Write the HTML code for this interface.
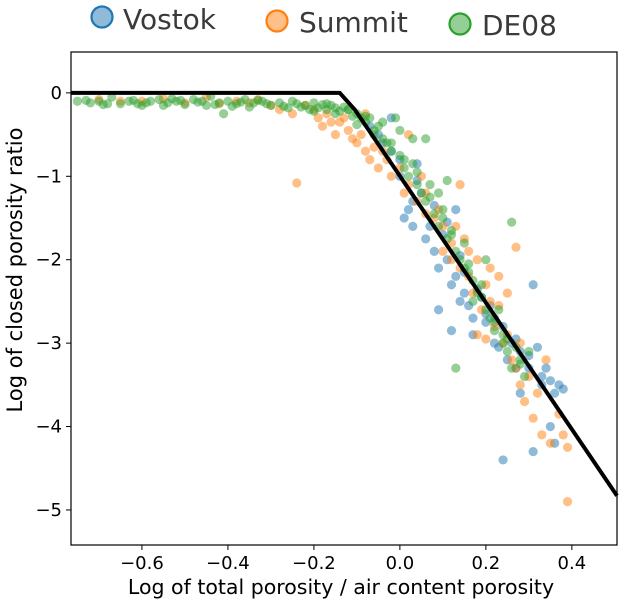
<!DOCTYPE html>
<html><head><meta charset="utf-8"><style>
html,body{margin:0;padding:0;background:#fff;}
svg{display:block;font-family:"DejaVu Sans","Liberation Sans",sans-serif;}
</style></head><body>
<svg id="chart" width="625" height="604" viewBox="0 0 625 604">
<g id="legend">
 <g>
  <circle cx="102" cy="17" r="10.5" fill="#8fbbd9" stroke="#1f77b4" stroke-width="2.2"/>
  <text x="123" y="29" font-size="28" fill="#3a3a3a">Vostok</text></g>
 <g>
  <circle cx="277" cy="21" r="10.5" fill="#ffbf86" stroke="#ff7f0e" stroke-width="2.2"/>
  <text x="299" y="32" font-size="28" fill="#3a3a3a">Summit</text></g>
 <g>
  <circle cx="460" cy="24" r="10.5" fill="#95cf95" stroke="#2ca02c" stroke-width="2.2"/>
  <text x="482" y="35" font-size="28" fill="#3a3a3a">DE08</text></g>
</g>
<g id="marks"></g>
<rect x="71" y="52" width="546" height="493" fill="none" stroke="#000" stroke-width="1.2"/>
<g id="axes"></g>
<text x="341" y="594" font-size="20.5" text-anchor="middle" fill="#000">Log of total porosity / air content porosity</text>
<text transform="translate(22,270) rotate(-90)" font-size="21" text-anchor="middle" fill="#000">Log of closed porosity ratio</text>
</svg>
<script>
const xTicks=[-0.6,-0.4,-0.2,0.0,0.2,0.4];
const yTicks=[0,-1,-2,-3,-4,-5];
const xDomain=[-0.765,0.505];
const yDomain=[0.49,-5.42];
const vostokX=[-0.05,-0.02,0.0,0.01,0.03,0.03,0.05,0.06,0.08,0.09,0.1,0.11,0.12,0.13,0.14,0.15,0.16,0.17,0.17,0.2,0.2,0.22,0.23,0.25,0.26,0.27,0.28,0.3,0.31,0.32,0.33,0.34,0.35,0.36,0.37,0.35,0.31,0.24,0.13,0.04,-0.02,0.09,0.07,0.12,0.28,0.38,0.36,0.02,-0.07,-0.04,0.0,0.04,0.08,0.11,0.14,0.18,0.21,0.24,0.27,0.3,0.33,0.15,0.19,0.22];
const vostokY=[-0.5,-0.7,-1.0,-1.5,-1.3,-1.6,-1.2,-1.75,-1.9,-2.1,-1.7,-2.0,-2.3,-2.2,-2.5,-2.4,-2.55,-2.7,-2.9,-2.65,-2.75,-3.0,-3.05,-3.2,-3.0,-3.3,-3.1,-3.3,-2.3,-3.05,-3.5,-3.3,-3.45,-3.6,-3.5,-4.0,-4.3,-4.4,-1.4,-0.85,-0.3,-2.6,-1.6,-2.85,-3.6,-3.55,-4.2,-1.4,-0.4,-0.6,-0.8,-1.05,-1.35,-1.55,-1.95,-2.35,-2.55,-2.8,-2.95,-3.15,-3.4,-2.15,-2.45,-2.7];
const summitX=[-0.7,-0.6,-0.5,-0.45,-0.38,-0.3,-0.28,-0.25,-0.2,-0.18,-0.16,-0.15,-0.12,-0.1,-0.08,-0.06,-0.05,-0.03,-0.02,0,0.02,0.04,0.06,0.08,0.1,0.12,0.12,0.14,0.15,0.16,0.17,0.18,0.19,0.2,0.21,0.22,0.23,0.24,0.25,0.26,0.27,0.27,0.28,0.29,0.3,0.31,0.33,0.35,0.37,0.38,0.39,0.39,0.14,-0.24,-0.13,0.06,0.25,0.18,0.34,0.2,0.1,0.02,-0.08,-0.55,-0.35,-0.22,-0.65,-0.42,-0.33,-0.19,-0.17,-0.14,-0.11,-0.09,-0.07,-0.04,0.01,0.05,0.09,0.13,0.16,0.21,0.23,0.28,0.32];
const summitY=[-0.08,-0.1,-0.12,-0.05,-0.1,-0.15,-0.2,-0.25,-0.2,-0.4,-0.35,-0.5,-0.45,-0.6,-0.7,-0.65,-0.9,-0.8,-1.0,-0.9,-1.1,-1.3,-1.2,-1.5,-1.6,-1.8,-2.0,-2.1,-1.75,-2.2,-2.4,-2.0,-2.6,-2.3,-2.5,-2.8,-2.2,-3.0,-2.9,-3.2,-1.85,-3.3,-3.5,-3.7,-3.4,-3.9,-4.1,-4.2,-3.85,-4.1,-4.25,-4.9,-1.1,-1.08,-0.3,-1.45,-2.4,-2.9,-3.2,-2.95,-1.9,-0.5,-0.25,-0.07,-0.12,-0.15,-0.1,-0.13,-0.08,-0.3,-0.25,-0.35,-0.55,-0.5,-0.8,-0.7,-1.2,-1.0,-1.4,-1.6,-1.9,-2.1,-2.55,-3.0,-3.6];
const de08X=[-0.75,-0.72,-0.7,-0.67,-0.65,-0.63,-0.6,-0.58,-0.56,-0.54,-0.52,-0.5,-0.48,-0.46,-0.44,-0.42,-0.41,-0.4,-0.38,-0.36,-0.34,-0.32,-0.3,-0.28,-0.26,-0.24,-0.22,-0.2,-0.19,-0.17,-0.16,-0.14,-0.13,-0.11,-0.1,-0.08,-0.07,-0.06,-0.05,-0.04,-0.03,-0.02,0,0,0.01,0.02,0.03,0.04,0.05,0.06,0.07,0.08,0.09,0.1,0.11,0.12,0.13,0.14,0.15,0.16,0.17,0.18,0.19,0.2,0.21,0.22,0.23,0.24,0.25,0.26,0.26,0.27,0.28,0.29,0.3,0.13,0.11,0.06,0.17,0.24,0.2,0.15,0.09,0.03,-0.01,-0.69,-0.62,-0.55,-0.47,-0.39,-0.33,-0.27,-0.21,-0.18,-0.15,-0.12,-0.09,-0.35,-0.45,-0.53,-0.61,-0.73,-0.68,-0.59,-0.51,-0.43,-0.37,-0.31,-0.25,-0.23,-0.2,-0.17,-0.15,-0.12,-0.1,-0.08,-0.06,-0.04,-0.02,0.01,0.04,0.07,0.1,0.12,0.16,0.19,0.22,0.25,0.28];
const de08Y=[-0.1,-0.12,-0.1,-0.05,-0.13,-0.1,-0.15,-0.1,-0.08,-0.12,-0.1,-0.14,-0.08,-0.1,-0.04,-0.12,-0.25,-0.1,-0.13,-0.08,-0.12,-0.1,-0.15,-0.12,-0.18,-0.13,-0.15,-0.12,-0.18,-0.2,-0.15,-0.22,-0.17,-0.28,-0.25,-0.35,-0.3,-0.45,-0.4,-0.55,-0.6,-0.7,-0.45,-0.75,-0.9,-1.0,-0.85,-1.1,-1.2,-1.3,-1.1,-1.45,-1.6,-1.5,-1.75,-1.65,-1.9,-2.0,-2.1,-2.05,-2.25,-2.4,-2.3,-2.6,-2.7,-2.85,-2.6,-3.0,-3.1,-3.3,-1.55,-3.05,-3.2,-3.4,-3.1,-3.3,-1.05,-0.55,-2.5,-2.9,-2.0,-1.8,-1.2,-0.55,-0.3,-0.14,-0.09,-0.15,-0.11,-0.16,-0.09,-0.16,-0.2,-0.14,-0.18,-0.2,-0.3,-0.17,-0.15,-0.07,-0.13,-0.09,-0.13,-0.12,-0.09,-0.14,-0.11,-0.13,-0.1,-0.17,-0.22,-0.13,-0.25,-0.2,-0.38,-0.28,-0.5,-0.35,-0.6,-0.8,-0.95,-1.25,-1.4,-1.7,-2.15,-2.45,-2.75,-2.95,-3.25];
const fitX=[-0.765,-0.14,-0.105,0.505];
const fitY=[0,0,-0.2,-4.83];
const X0=71,X1=617,Y0=52,Y1=545;
const sx=v=>X0+(v-xDomain[0])/(xDomain[1]-xDomain[0])*(X1-X0);
const sy=v=>Y0+(v-yDomain[0])/(yDomain[1]-yDomain[0])*(Y1-Y0);
const NS='http://www.w3.org/2000/svg';
const marks=document.getElementById('marks'),axes=document.getElementById('axes');
function series(xs,ys,fill,name){
  const g=document.createElementNS(NS,'g');
  
  
  xs.forEach((x,i)=>{
    const c=document.createElementNS(NS,'circle');
    c.setAttribute('cx',sx(x));c.setAttribute('cy',sy(ys[i]));c.setAttribute('r',4.6);
    c.setAttribute('fill',fill);c.setAttribute('fill-opacity',0.5);
    
    
    g.appendChild(c);
  });
  marks.appendChild(g);
}
series(vostokX,vostokY,'#1f77b4','vostok');
series(summitX,summitY,'#ff7f0e','summit');
series(de08X,de08Y,'#2ca02c','de08');
const line=document.createElementNS(NS,'polyline');
line.setAttribute('points',fitX.map((x,i)=>sx(x)+','+sy(fitY[i])).join(' '));
line.setAttribute('fill','none');line.setAttribute('stroke','#000');line.setAttribute('stroke-width',4);


marks.appendChild(line);
const fmt=v=>(v<0?'\u2212':'')+Math.abs(v).toFixed(1);
xTicks.forEach(v=>{
  const l=document.createElementNS(NS,'line');
  l.setAttribute('x1',sx(v));l.setAttribute('x2',sx(v));l.setAttribute('y1',Y1);l.setAttribute('y2',Y1+5);l.setAttribute('stroke','#000');
  
  
  axes.appendChild(l);
  const t=document.createElementNS(NS,'text');
  t.setAttribute('x',sx(v));t.setAttribute('y',Y1+24);t.setAttribute('font-size',18);t.setAttribute('text-anchor','middle');
  t.textContent=fmt(v);
  
  
  axes.appendChild(t);
});
yTicks.forEach(v=>{
  const l=document.createElementNS(NS,'line');
  l.setAttribute('x1',X0-5);l.setAttribute('x2',X0);l.setAttribute('y1',sy(v));l.setAttribute('y2',sy(v));l.setAttribute('stroke','#000');
  
  
  axes.appendChild(l);
  const t=document.createElementNS(NS,'text');
  t.setAttribute('x',X0-9);t.setAttribute('y',sy(v)+6);t.setAttribute('font-size',18);t.setAttribute('text-anchor','end');
  t.textContent=v===0?'0':'\u2212'+Math.abs(v);
  
  
  axes.appendChild(t);
});
</script>
</body></html>
